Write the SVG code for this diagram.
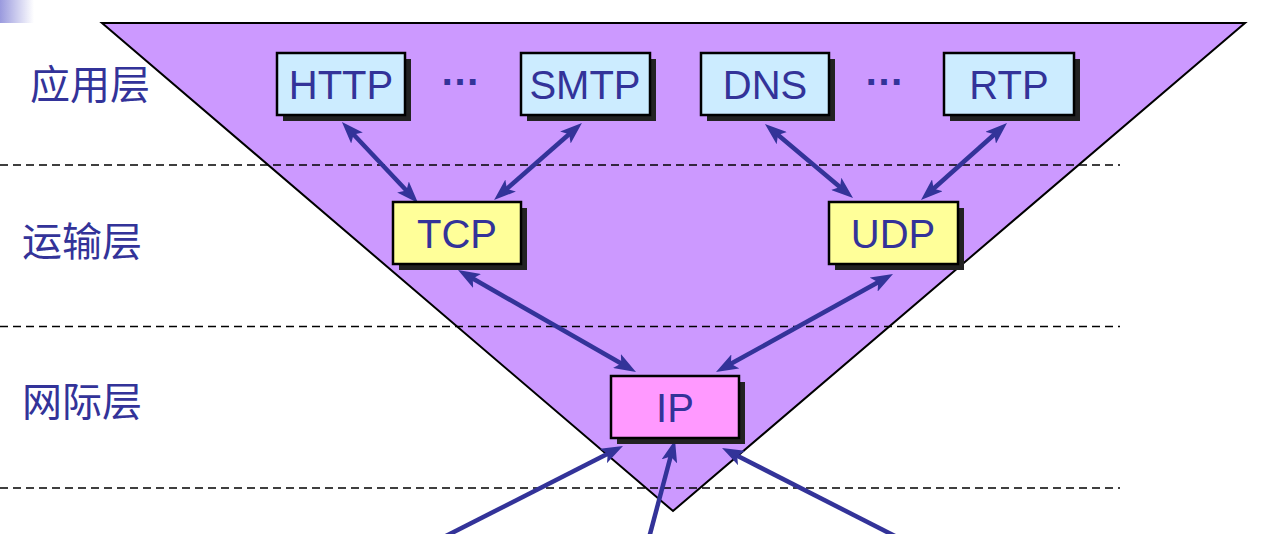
<svg xmlns="http://www.w3.org/2000/svg" width="1262" height="534" viewBox="0 0 1262 534">
<defs>
<linearGradient id="corner" x1="0" y1="0" x2="1" y2="0">
<stop offset="0" stop-color="#9a9ade"/>
<stop offset="1" stop-color="#ffffff"/>
</linearGradient>
<marker id="ah" viewBox="0 0 22 16" refX="6" refY="8" markerWidth="22" markerHeight="16" markerUnits="userSpaceOnUse" orient="auto-start-reverse">
<path d="M0,0 L22,8 L0,16 L5,8 z" fill="#333399"/>
</marker>
<style>
.box{stroke:#000;stroke-width:2.5}
.shadow{fill:#222222}
.app{fill:#ccecff}
.tr{fill:#ffff99}
.ip{fill:#ff99ff}
.lbl{font-family:"Liberation Sans",Arial,sans-serif;font-size:40px;fill:#333399;text-anchor:middle}
.dots{font-family:"Liberation Sans",Arial,sans-serif;font-size:40px;font-weight:bold;fill:#333399;text-anchor:middle}
.layer{font-family:"Noto Sans CJK SC",sans-serif;font-size:40px;fill:#333399}
.dash{stroke:#000;stroke-width:1.6;stroke-dasharray:8 5}
.conn{stroke:#333399;stroke-width:4.5;fill:none}
</style>
</defs>
<rect x="0" y="0" width="34" height="23" fill="url(#corner)"/>
<polygon points="102,23 1245,23 673,511" fill="#cc99ff" stroke="#000" stroke-width="2"/>
<g id="layer-lines">
<line class="dash" x1="0" y1="165" x2="1120" y2="165"/>
<line class="dash" x1="0" y1="326.5" x2="1120" y2="326.5"/>
<line class="dash" x1="0" y1="488" x2="1120" y2="488"/>
</g>
<g id="layer-labels">
<text class="layer" x="30" y="99">应用层</text>
<text class="layer" x="22" y="256">运输层</text>
<text class="layer" x="22" y="416">网际层</text>
</g>
<g id="connectors">
<line class="conn" x1="352.9" y1="133.7" x2="407.1" y2="191.3" marker-start="url(#ah)" marker-end="url(#ah)"/>
<line class="conn" x1="569.9" y1="133.5" x2="506.1" y2="189.5" marker-start="url(#ah)" marker-end="url(#ah)"/>
<line class="conn" x1="777.2" y1="134.3" x2="840.8" y2="187.7" marker-start="url(#ah)" marker-end="url(#ah)"/>
<line class="conn" x1="995.1" y1="133.7" x2="932.9" y2="189.3" marker-start="url(#ah)" marker-end="url(#ah)"/>
<line class="conn" x1="471.9" y1="278.0" x2="622.1" y2="364.0" marker-start="url(#ah)" marker-end="url(#ah)"/>
<line class="conn" x1="879.0" y1="281.7" x2="730.0" y2="364.3" marker-start="url(#ah)" marker-end="url(#ah)"/>
<line class="conn" x1="440" y1="539" x2="608.7" y2="453.3" marker-end="url(#ah)"/>
<line class="conn" x1="648.7" y1="539" x2="670.9" y2="455.5" marker-end="url(#ah)"/>
<line class="conn" x1="900" y1="538.6" x2="736.3" y2="455.3" marker-end="url(#ah)"/>
</g>
<g id="http">
<rect class="shadow" x="283" y="59" width="128" height="62"/>
<rect class="box app" x="277" y="53" width="128" height="62"/>
<text class="lbl" x="341" y="99">HTTP</text>
</g>
<g id="dots1"><text class="dots" x="460" y="85">…</text></g>
<g id="smtp">
<rect class="shadow" x="527" y="59" width="129" height="62"/>
<rect class="box app" x="521" y="53" width="129" height="62"/>
<text class="lbl" x="585" y="99">SMTP</text>
</g>
<g id="dns">
<rect class="shadow" x="707" y="59" width="128" height="62"/>
<rect class="box app" x="701" y="53" width="128" height="62"/>
<text class="lbl" x="765" y="99">DNS</text>
</g>
<g id="dots2"><text class="dots" x="884" y="85">…</text></g>
<g id="rtp">
<rect class="shadow" x="950" y="59" width="130" height="62"/>
<rect class="box app" x="944" y="53" width="130" height="62"/>
<text class="lbl" x="1009" y="99">RTP</text>
</g>
<g id="tcp">
<rect class="shadow" x="399" y="208" width="128" height="62"/>
<rect class="box tr" x="393" y="202" width="128" height="62"/>
<text class="lbl" x="457" y="248">TCP</text>
</g>
<g id="udp">
<rect class="shadow" x="835" y="208" width="129" height="62"/>
<rect class="box tr" x="829" y="202" width="129" height="62"/>
<text class="lbl" x="893" y="248">UDP</text>
</g>
<g id="ip">
<rect class="shadow" x="617" y="382" width="128" height="62"/>
<rect class="box ip" x="611" y="376" width="128" height="62"/>
<text class="lbl" x="675" y="422">IP</text>
</g>
</svg>
